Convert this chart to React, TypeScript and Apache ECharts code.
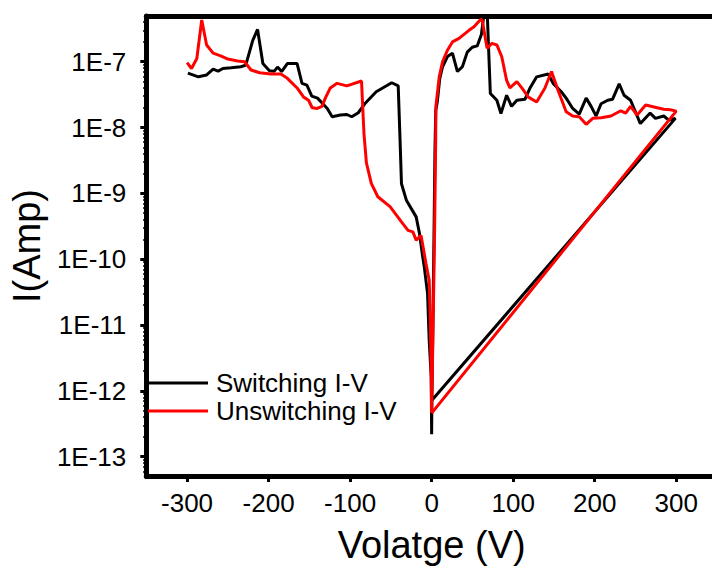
import React, { useEffect, useRef } from "react";
import * as echarts from "echarts";

// Switching sweep: negative branch, valley at 0 V, rising branch, then the return to 0 V
const switchingV = [
  -299, -286, -276, -268, -262, -256, -246, -234, -228, -219.5, -213.5, -207, -199, -193, -189, -184,
  -177, -165, -159, -153, -147, -140, -132, -128, -122, -112, -104, -98, -90, -82, -68, -49, -41,
  -39, -37, -31, -19, -15, -11, -9, -5, -3, -0.5, 0, 0.3,
  1.5, 3, 4, 5, 7, 10, 13.4, 19.4, 25.5, 31.6, 37.7, 43.7, 49.8, 55.9, 61, 65, 68, 72, 80, 85, 92,
  98, 104.5, 114.6, 120.7, 128.8, 143, 149, 159, 165, 173, 181, 189.5, 195.6, 201.7, 207.8, 216,
  222, 230, 236, 244, 256, 268, 274.5, 284.7, 290.8, 299, 0.3,
];
const switchingI = [
  6.7e-8, 5.9e-8, 6.3e-8, 7.7e-8, 7.2e-8, 7.9e-8, 8.1e-8, 8.4e-8, 8.9e-8, 2.1e-7, 3.1e-7, 9.4e-8,
  7.3e-8, 7.2e-8, 8.3e-8, 7.1e-8, 9.4e-8, 9.4e-8, 4.7e-8, 4.4e-8, 3.0e-8, 2.8e-8, 2.2e-8, 1.95e-8,
  1.46e-8, 1.55e-8, 1.58e-8, 1.46e-8, 1.68e-8, 2.3e-8, 3.5e-8, 4.8e-8, 4.3e-8,
  8.1e-9, 1.4e-9, 7.9e-10, 4.4e-10, 2.5e-10, 1.1e-10, 7.6e-11, 3.0e-11, 5.9e-12, 1.6e-12, 2.2e-13, 7.2e-13,
  1.0e-11, 3.2e-10, 4.0e-9, 1.8e-8, 2.5e-8, 5.6e-8, 8.4e-8, 1.2e-7, 1.35e-7, 7.1e-8, 8.4e-8, 1.4e-7,
  1.66e-7, 1.74e-7, 2.6e-7, 6.3e-7, 6.3e-7, 3.3e-8, 2.6e-8, 1.64e-8, 3.1e-8, 2.1e-8, 2.6e-8, 2.7e-8,
  4.0e-8, 5.9e-8, 6.5e-8, 4.7e-8, 3.5e-8, 2.8e-8, 1.95e-8, 1.6e-8, 2.8e-8, 2.1e-8, 1.5e-8, 2.3e-8,
  2.6e-8, 2.7e-8, 4.6e-8, 3.1e-8, 2.6e-8, 1.15e-8, 1.66e-8, 1.38e-8, 1.5e-8, 1.3e-8, 1.38e-8, 7.2e-13,
];

// Unswitching sweep
const unswitchingV = [
  -300, -294.5, -288, -282, -276, -268, -258, -250, -238, -229.5, -221.5, -211, -197, -185, -177,
  -165, -157, -151, -146.5, -140.4, -134.5, -130.4, -124.3, -116, -104, -86, -83, -80, -74, -66,
  -51, -37, -29, -23, -19, -13, -7, -3, -1.5, -0.5, 0,
  1.5, 3.5, 5, 5.2, 9.3, 13.4, 19.4, 25.5, 33.6, 45.8, 52, 60, 62, 68, 74, 80, 86, 92, 96, 104.5,
  110.6, 118.7, 128.8, 139, 147, 155, 165, 173, 181, 189.5, 197.6, 208, 220, 232, 238, 244, 252,
  262.5, 276.7, 284.7, 292.8, 300, 0,
];
const unswitchingI = [
  9.7e-8, 7.9e-8, 1.12e-7, 4.3e-7, 1.8e-7, 1.35e-7, 1.22e-7, 1.1e-7, 1.03e-7, 1.0e-7, 7.5e-8, 6.8e-8,
  6.5e-8, 6.5e-8, 5.6e-8, 4.0e-8, 2.9e-8, 2.6e-8, 2.0e-8, 1.95e-8, 2.1e-8, 2.8e-8, 4.0e-8, 4.7e-8,
  4.3e-8, 5.1e-8, 8.1e-9, 2.9e-9, 1.42e-9, 8.9e-10, 6.3e-10, 3.7e-10, 2.75e-10, 2.6e-10, 1.95e-10,
  2.3e-10, 8.7e-11, 4.8e-11, 1.0e-11, 1.6e-12, 4.6e-13,
  5.9e-12, 1.95e-10, 6.9e-9, 2.1e-8, 5.9e-8, 1.0e-7, 1.5e-7, 2.0e-7, 2.26e-7, 3.0e-7, 3.4e-7, 4.4e-7,
  4.3e-7, 1.6e-7, 1.9e-7, 1.8e-7, 1.19e-7, 5.2e-8, 4.0e-8, 5.0e-8, 4.0e-8, 2.9e-8, 2.45e-8, 4.0e-8,
  7.1e-8, 3.7e-8, 1.74e-8, 1.5e-8, 1.46e-8, 1.12e-8, 1.38e-8, 1.41e-8, 1.5e-8, 1.8e-8, 1.66e-8,
  2.1e-8, 1.55e-8, 2.2e-8, 2.0e-8, 1.9e-8, 1.86e-8, 1.78e-8, 4.6e-13,
];

const xMajorTicks = [-300, -200, -100, 0, 100, 200, 300];
const xMinorTicks = [-350, -250, -150, -50, 50, 150, 250, 350];
const yDecadeExponents = [-13, -12, -11, -10, -9, -8, -7];

const X_MIN = -350;
const X_MAX = 350;
const Y_MIN = -13.293; // log10 of the lower current limit
const Y_MAX = -6.305; // log10 of the upper current limit

const FONT = "'Liberation Sans', Arial, sans-serif";

const yMinorTicks: number[] = [];
for (let d = -14; d <= -7; d++) {
  for (let k = 2; k <= 9; k++) {
    const v = d + Math.log10(k);
    if (v > Y_MIN && v < Y_MAX) yMinorTicks.push(v);
  }
}

const toLogPairs = (vs: number[], is: number[]) => vs.map((v, i) => [v, Math.log10(is[i])]);

export default function App() {
  const ref = useRef<HTMLDivElement>(null);

  useEffect(() => {
    if (!ref.current) return;
    const chart = echarts.init(ref.current, undefined, { renderer: "svg" });

    const axisBase = {
      type: "value" as const,
      splitLine: { show: false },
    };

    chart.setOption({
      animation: false,
      backgroundColor: "#fff",
      grid: { left: 141, top: 16, right: 13, bottom: 93, containLabel: false },
      legend: {
        data: ["Switching I-V", "Unswitching I-V"],
        orient: "vertical",
        left: 148,
        top: 370,
        padding: 0,
        itemWidth: 60,
        itemHeight: 3,
        itemGap: 2,
        icon: "rect",
        textStyle: { fontSize: 26, fontFamily: FONT, color: "#000", padding: [0, 0, 0, 3] },
      },
      xAxis: [
        {
          ...axisBase,
          min: X_MIN,
          max: X_MAX,
          position: "bottom",
          axisLine: { onZero: false, lineStyle: { color: "#000", width: 5 } },
          axisTick: { customValues: xMajorTicks, length: 6, lineStyle: { width: 3, color: "#000" } },
          axisLabel: {
            customValues: xMajorTicks,
            fontSize: 26,
            margin: 14,
            color: "#000",
            fontFamily: FONT,
          },
          name: "Volatge (V)",
          nameLocation: "middle",
          nameGap: 50,
          nameTextStyle: { fontSize: 38, fontFamily: FONT, color: "#000" },
        },
        {
          ...axisBase,
          min: X_MIN,
          max: X_MAX,
          position: "bottom",
          axisLine: { show: false, onZero: false },
          axisTick: { customValues: xMinorTicks, length: 3, lineStyle: { width: 3, color: "#000" } },
          axisLabel: { show: false },
        },
        {
          ...axisBase,
          min: X_MIN,
          max: X_MAX,
          position: "top",
          axisLine: { onZero: false, lineStyle: { color: "#000", width: 5 } },
          axisTick: { show: false },
          axisLabel: { show: false },
        },
      ],
      yAxis: [
        {
          ...axisBase,
          min: Y_MIN,
          max: Y_MAX,
          position: "left",
          axisLine: { onZero: false, lineStyle: { color: "#000", width: 5 } },
          axisTick: { customValues: yDecadeExponents, length: 6, lineStyle: { width: 3, color: "#000" } },
          axisLabel: {
            customValues: yDecadeExponents,
            formatter: (v: number) => "1E" + Math.round(v),
            fontSize: 26,
            margin: 20,
            color: "#000",
            fontFamily: FONT,
          },
          name: "I(Amp)",
          nameLocation: "middle",
          nameGap: 91,
          nameTextStyle: { fontSize: 38, fontFamily: FONT, color: "#000" },
        },
        {
          ...axisBase,
          min: Y_MIN,
          max: Y_MAX,
          position: "left",
          axisLine: { show: false, onZero: false },
          axisTick: { customValues: yMinorTicks, length: 3, lineStyle: { width: 2, color: "#000" } },
          axisLabel: { show: false },
        },
      ],
      series: [
        {
          name: "Switching I-V",
          type: "line",
          xAxisIndex: 0,
          yAxisIndex: 0,
          data: toLogPairs(switchingV, switchingI),
          showSymbol: false,
          symbol: "none",
          color: "#000000",
          lineStyle: { color: "#000000", width: 3 },
          clip: true,
          z: 2,
        },
        {
          name: "Unswitching I-V",
          type: "line",
          xAxisIndex: 0,
          yAxisIndex: 0,
          data: toLogPairs(unswitchingV, unswitchingI),
          showSymbol: false,
          symbol: "none",
          color: "#ff0000",
          lineStyle: { color: "#ff0000", width: 3 },
          clip: true,
          z: 3,
        },
      ],
    });

    return () => chart.dispose();
  }, []);

  return (
    <div
      style={{
        position: "fixed",
        left: 0,
        top: 0,
        width: 712,
        height: 569,
        overflow: "hidden",
        background: "#fff",
      }}
    >
      <div ref={ref} style={{ width: 730, height: 569 }} />
    </div>
  );
}
